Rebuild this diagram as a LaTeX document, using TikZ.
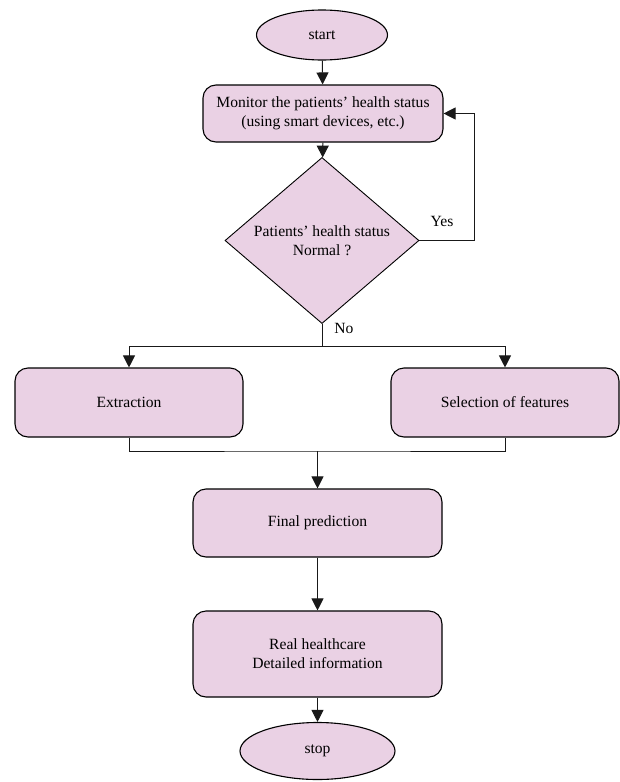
\documentclass[tikz,border=0pt]{standalone}
\usepackage{fontspec}
\setmainfont{Liberation Serif}
\usetikzlibrary{shapes.geometric,arrows.meta,calc}
\definecolor{boxfill}{RGB}{234,209,228}
\begin{document}
\begin{tikzpicture}[x=1pt,y=-1pt,
  font=\fontsize{15.6}{19}\selectfont,
  box/.style={draw=black,line width=1.1pt,fill=boxfill,rounded corners=13pt,
    rectangle,align=center,inner sep=0pt},
  oval/.style={draw=black,line width=1.1pt,fill=boxfill,ellipse,inner sep=0pt},
  decision/.style={draw=black,line width=0.9pt,fill=boxfill,diamond,inner sep=0pt,align=center},
  conn/.style={line width=1pt,draw=black!90},
  arr/.style={conn,-{Triangle[width=12pt,length=12pt]}},
  lbl/.style={inner sep=0pt,anchor=center}]
\useasboundingbox (0,0) rectangle (620,782);
\node[oval,minimum width=131pt,minimum height=50pt] (start) at (322,35) {start};
\node[box,minimum width=240pt,minimum height=57pt] (monitor) at (323,113.5) {Monitor the patients’ health status\\(using smart devices, etc.)};
\node[decision,minimum width=194pt,minimum height=147pt] (dec) at (322,240.5) {Patients’ health status\\Normal ?};
\node[box,minimum width=228pt,minimum height=69pt] (ext) at (129,402.5) {Extraction};
\node[box,minimum width=228pt,minimum height=69pt] (sel) at (505,402.5) {Selection of features};
\node[box,minimum width=249pt,minimum height=68pt] (final) at (317.5,523) {Final prediction};
\node[box,minimum width=249pt,minimum height=86pt] (real) at (317.5,654) {Real healthcare\\Detailed information};
\node[oval,minimum width=155pt,minimum height=57pt] (stop) at (317.5,751) {stop};
\node[lbl] (yes) at (442,221) {Yes};
\node[lbl] (no) at (344,328) {No};
\coordinate (split) at (dec.south |- 0,346);
\coordinate (fb) at (474,0);
\coordinate (merge) at (final.north |- 0,451);
\draw[arr] (start) -- (monitor);
\draw[arr] (monitor) -- (dec);
\draw[arr] (dec.east) -| (fb |- monitor.east) -- (monitor.east);
\draw[conn] (dec.south) -- (split);
\draw[arr] (split) -| (ext.north);
\draw[arr] (split) -| (sel.north);
\draw[conn] (ext.south) |- (merge) -| (sel.south);
\draw[arr] (merge) -- (final.north);
\draw[arr] (final) -- (real);
\draw[arr] (real) -- (stop);
\end{tikzpicture}
\end{document}
